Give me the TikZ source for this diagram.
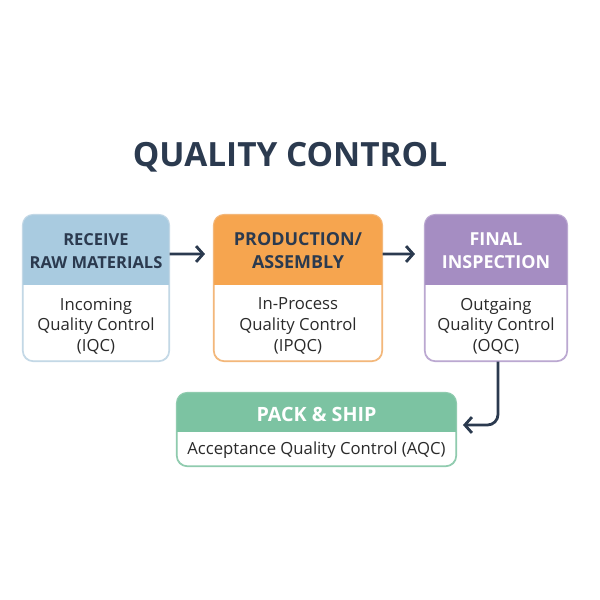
\documentclass[tikz,border=0pt]{standalone}
\usepackage{fontspec}
\setmainfont{Open Sans}
\usepackage{xcolor}
\usepackage{tikz}
\usetikzlibrary{arrows.meta}
\usetikzlibrary{positioning}

\definecolor{navy}{HTML}{2B3A4F}
\definecolor{bodytxt}{HTML}{2A2A2A}
\definecolor{recvfill}{HTML}{A9CBE0}
\definecolor{recvline}{HTML}{C3D8E6}
\definecolor{prodfill}{HTML}{F6A54F}
\definecolor{prodline}{HTML}{F3B77A}
\definecolor{inspfill}{HTML}{A58DC2}
\definecolor{inspline}{HTML}{BBA8D1}
\definecolor{packfill}{HTML}{7CC3A2}
\definecolor{packline}{HTML}{8FCBAE}

\tikzset{
  stagebox/.style={draw, line width=0.6pt, rounded corners=6pt, fill=white, inner sep=0pt},
  headtxt/.style={font=\fontsize{10.2}{13}\selectfont\bfseries, align=center, text=navy},
  bodytext/.style={font=\fontsize{9.5}{11.7}\selectfont, align=center, text=bodytxt},
  flow/.style={draw=navy, line width=1.6pt, -{Straight Barb[length=4pt,width=9pt,line width=1.6pt]}},
}

\begin{document}
\begin{tikzpicture}[x=0.02cm,y=-0.02cm]
\useasboundingbox (0,0) rectangle (600,600);

% title
\node (title) at (290,157) {\fontsize{19}{22}\selectfont\bfseries\color{navy}QUALITY CONTROL};

% stage boxes
\node[stagebox, draw=recvline, minimum width=2.92cm, minimum height=2.92cm] (recv) at (96,288) {};
\node[stagebox, draw=prodline, minimum width=3.36cm, minimum height=2.92cm] (prod) at (298,288) {};
\node[stagebox, draw=inspline, minimum width=2.84cm, minimum height=2.92cm] (insp) at (496,288) {};
\node[stagebox, draw=packline, minimum width=5.58cm, minimum height=1.46cm] (pack) at (316.5,429.5) {};

% coloured headers
\begin{scope}
\clip[rounded corners=6pt] (recv.south west) rectangle (recv.north east);
\fill[recvfill] (recv.north west) rectangle ([yshift=-1.42cm]recv.north east);
\end{scope}
\begin{scope}
\clip[rounded corners=6pt] (prod.south west) rectangle (prod.north east);
\fill[prodfill] (prod.north west) rectangle ([yshift=-1.42cm]prod.north east);
\end{scope}
\begin{scope}
\clip[rounded corners=6pt] (insp.south west) rectangle (insp.north east);
\fill[inspfill] (insp.north west) rectangle ([yshift=-1.42cm]insp.north east);
\end{scope}
\begin{scope}
\clip[rounded corners=6pt] (pack.south west) rectangle (pack.north east);
\fill[packfill] (pack.north west) rectangle ([yshift=-0.80cm]pack.north east);
\end{scope}
\draw[recvline, line width=0.6pt, rounded corners=6pt] (recv.south west) rectangle (recv.north east);
\draw[prodline, line width=0.6pt, rounded corners=6pt] (prod.south west) rectangle (prod.north east);
\draw[inspline, line width=0.6pt, rounded corners=6pt] (insp.south west) rectangle (insp.north east);
\draw[packline, line width=0.6pt, rounded corners=6pt] (pack.south west) rectangle (pack.north east);

% texts
\node[headtxt, font=\fontsize{9.4}{13}\selectfont\bfseries] (recvhead) at (96,251) {RECEIVE\\RAW MATERIALS};
\node[headtxt] (prodhead) at (298,251) {PRODUCTION/\\ASSEMBLY};
\node[headtxt, text=white] (insphead) at (496,251) {FINAL\\INSPECTION};
\node[headtxt, text=white, font=\fontsize{11.2}{13}\selectfont\bfseries] (packhead) at (316.5,414) {PACK \& SHIP};
\node[bodytext] (recvbody) at (96,326) {Incoming\\Quality Control\\(IQC)};
\node[bodytext] (prodbody) at (298,326) {In-Process\\Quality Control\\(IPQC)};
\node[bodytext] (inspbody) at (496,326) {Outgaing\\Quality Control\\(OQC)};
\node[bodytext] (packbody) at (316.5,450) {Acceptance Quality Control (AQC)};

% connectors
\coordinate (recvout) at ([yshift=0.68cm]recv.east);
\coordinate (prodin) at (205,254);
\coordinate (prodout) at ([yshift=0.68cm]prod.east);
\coordinate (inspin) at (415,254);
\coordinate (inspout) at ([xshift=0.04cm]insp.south);
\coordinate (turn) at (498,425);
\coordinate (packin) at (463,425);
\draw[flow] (recvout) -- (prodin);
\draw[flow] (prodout) -- (inspin);
\draw[flow, rounded corners=6pt] (inspout) -- (turn) -- (packin);
\end{tikzpicture}
\end{document}
